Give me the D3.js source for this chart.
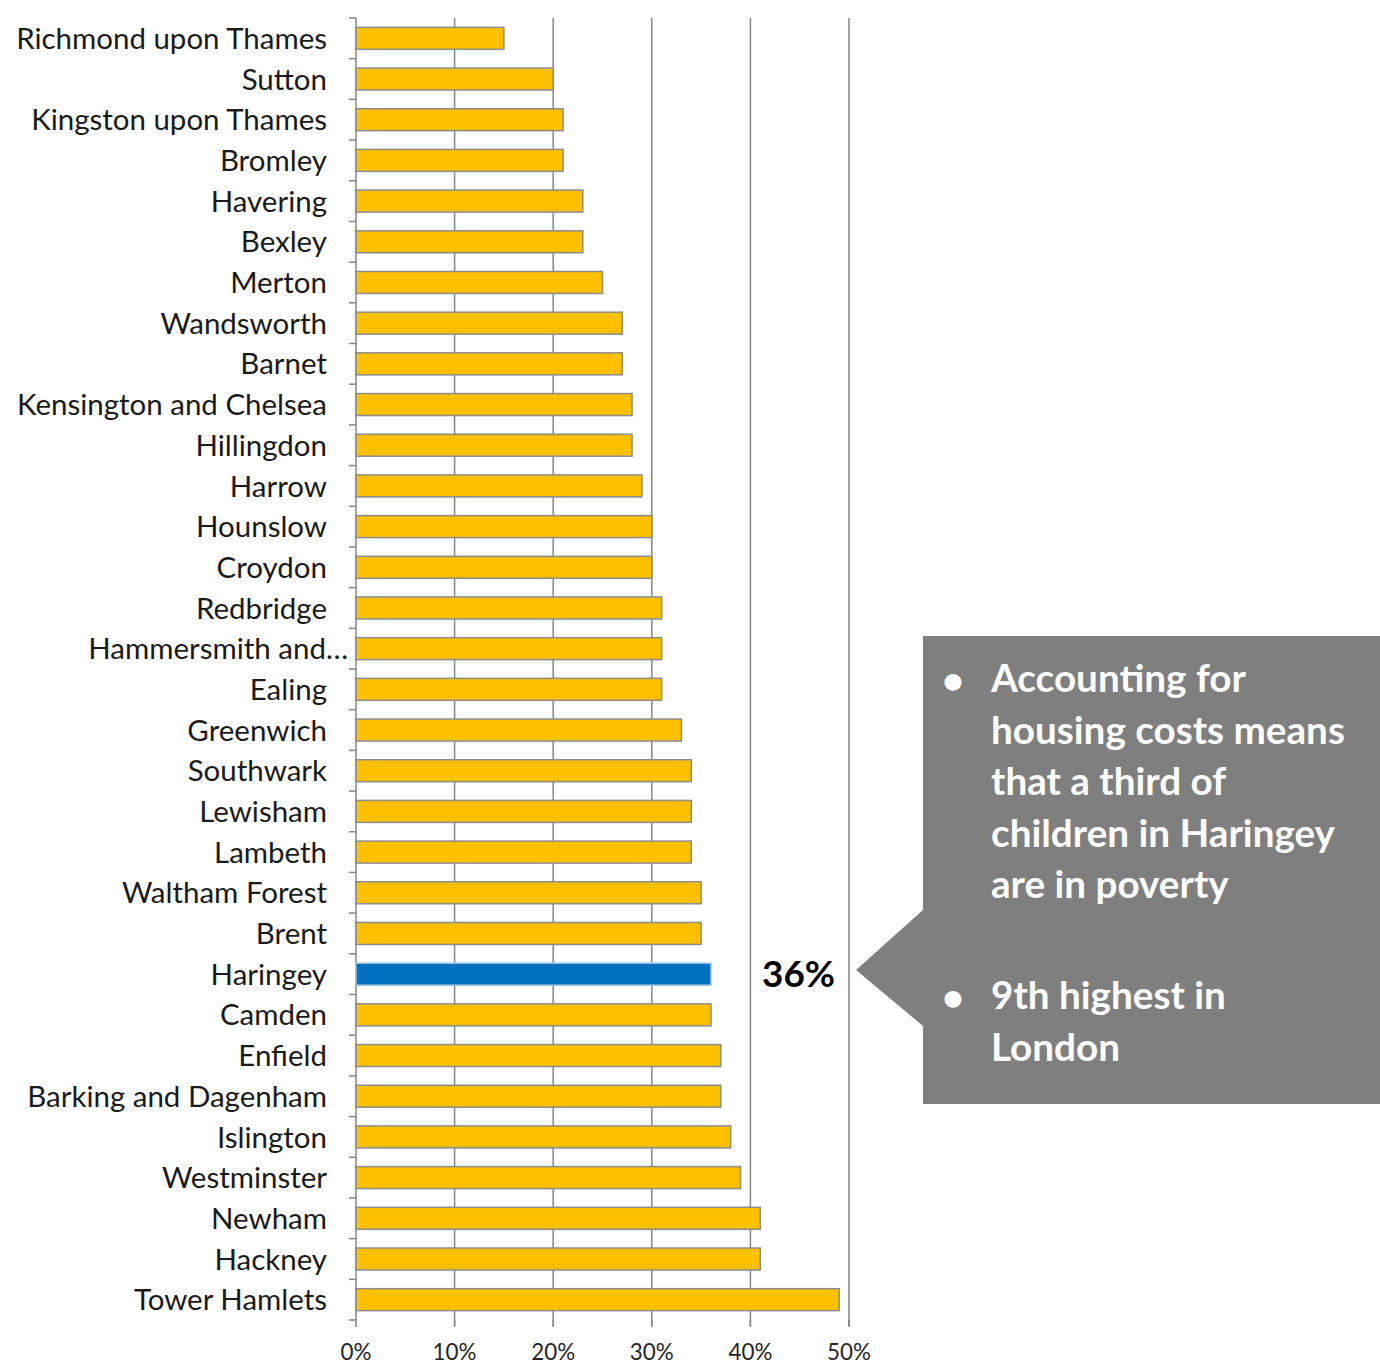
<!DOCTYPE html>
<html><head><meta charset="utf-8">
<script src="https://cdn.jsdelivr.net/npm/d3@7"></script>
<style>body{margin:0;background:#fff}svg{display:block}</style>
</head><body>
<script>
const boroughs = ["Richmond upon Thames","Sutton","Kingston upon Thames","Bromley","Havering","Bexley","Merton","Wandsworth","Barnet","Kensington and Chelsea","Hillingdon","Harrow","Hounslow","Croydon","Redbridge","Hammersmith and…","Ealing","Greenwich","Southwark","Lewisham","Lambeth","Waltham Forest","Brent","Haringey","Camden","Enfield","Barking and Dagenham","Islington","Westminster","Newham","Hackney","Tower Hamlets"];
const povertyPct = [15,20,21,21,23,23,25,27,27,28,28,29,30,30,31,31,31,33,34,34,34,35,35,36,36,37,37,38,39,41,41,49];
const xTicks = [0,10,20,30,40,50];
const highlight = "Haringey";
const highlightLabel = "36%";
const bullet1 = ["Accounting for","housing costs means","that a third of","children in Haringey","are in poverty"];
const bullet2 = ["9th highest in","London"];

const W = 1380, H = 1367;
const svg = d3.select("body").append("svg").attr("width", W).attr("height", H);

const x = d3.scaleLinear().domain([0,50]).range([356,849]);
const y = d3.scaleBand().domain(boroughs).range([18,1320]).paddingInner(0.46).paddingOuter(0.23);

function fitSize(txt, family, weight, target){
  const t = svg.append("text").attr("font-family", family).attr("font-weight", weight).attr("font-size",100).text(txt);
  const w = t.node().getComputedTextLength(); t.remove();
  return 100*target/w;
}
const labFont = "Lato, 'Open Sans', sans-serif";
const labSize = fitSize("Richmond upon Thames", labFont, 400, 311);
const tickSize = fitSize("50%", labFont, 400, 44);
const boxSize = fitSize("housing costs means", labFont, 700, 354);
const pctSize = fitSize("36%", labFont, 700, 73);

// gridlines
svg.append("g").selectAll("line").data(xTicks.slice(1)).join("line")
  .attr("x1", d=>x(d)).attr("x2", d=>x(d)).attr("y1", 18).attr("y2", 1326)
  .attr("stroke", "#868686").attr("stroke-width", 1.5);

// left axis with ticks at band boundaries
const bounds = boroughs.map(b=>y(b)-y.step()*y.paddingInner()/2).concat([1320]);
svg.append("line").attr("x1",356).attr("x2",356).attr("y1",18).attr("y2",1320).attr("stroke","#868686").attr("stroke-width",1.5);
svg.append("g").selectAll("line").data(bounds).join("line")
  .attr("x1",349).attr("x2",356).attr("y1",(d,i)=>i===0?18:d).attr("y2",(d,i)=>i===0?18:d)
  .attr("stroke","#868686").attr("stroke-width",1.5);
// bottom ticks
svg.append("g").selectAll("line").data(xTicks).join("line")
  .attr("x1",d=>x(d)).attr("x2",d=>x(d)).attr("y1",1320).attr("y2",1327)
  .attr("stroke","#868686").attr("stroke-width",1.5);

// bars
svg.append("g").selectAll("rect").data(boroughs).join("rect")
  .attr("x", x(0)).attr("y", d=>y(d)).attr("height", y.bandwidth())
  .attr("width", (d,i)=>x(povertyPct[i])-x(0))
  .attr("fill", d=>d===highlight?"#0070C0":"#FFC000")
  .attr("stroke", d=>d===highlight?"#9DC3E6":"#8c8c8c").attr("stroke-width",1.5);

// category labels
svg.append("g").selectAll("text").data(boroughs).join("text")
  .attr("x", d=>d.endsWith("…")?348:327).attr("y", d=>y(d)+y.bandwidth()/2)
  .attr("dy","0.36em").attr("text-anchor","end")
  .attr("font-family",labFont).attr("font-size",labSize).attr("fill","#1a1a1a").text(d=>d);

// x tick labels
svg.append("g").selectAll("text").data(xTicks).join("text")
  .attr("x", d=>x(d)).attr("y", 1360).attr("text-anchor","middle")
  .attr("font-family",labFont).attr("font-size",tickSize).attr("fill","#262626").text(d=>d+"%");

// highlight label
svg.append("text").attr("x",762).attr("y", y(highlight)+y.bandwidth()/2).attr("dy","0.36em")
  .attr("font-family",labFont).attr("font-weight",700).attr("font-size",pctSize).attr("fill","#000").text(highlightLabel);

// callout
svg.append("path").attr("d","M923,636 L1380,636 L1380,1104 L923,1104 L923,1026 L856,970 L923,910 Z").attr("fill","#7f7f7f");
const g = svg.append("g").attr("font-family",labFont).attr("font-weight",700).attr("font-size",boxSize).attr("fill","#fff");
const lh = 51.5;
bullet1.forEach((t,i)=>g.append("text").attr("x",991).attr("y",692+i*lh).text(t));
bullet2.forEach((t,i)=>g.append("text").attr("x",991).attr("y",1009+i*lh).text(t));
[680,997].forEach(cy=>g.append("text").attr("x",953).attr("y",cy).attr("dy","0.35em").attr("text-anchor","middle").text("•"));
</script>
</body></html>
